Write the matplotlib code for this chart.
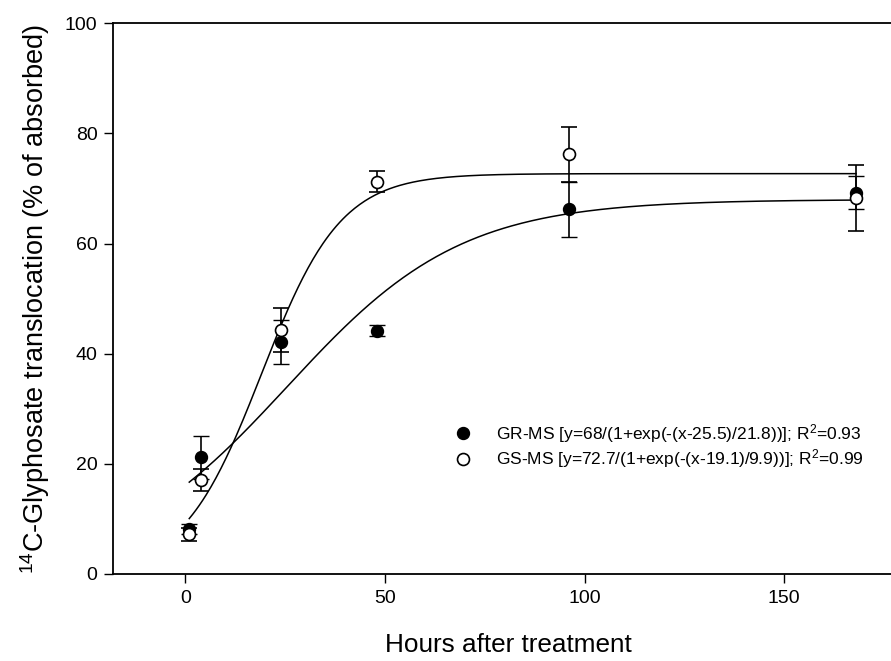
import numpy as np
import matplotlib
matplotlib.use("Agg")
import matplotlib.pyplot as plt
from matplotlib.lines import Line2D

plt.rcParams['font.family'] = ['Liberation Sans', 'DejaVu Sans']
plt.rcParams['mathtext.fontset'] = 'custom'
plt.rcParams['mathtext.rm'] = 'Liberation Sans'
plt.rcParams['mathtext.it'] = 'Liberation Sans:italic'
plt.rcParams['mathtext.bf'] = 'Liberation Sans:bold'

# Sampling times (hours after treatment)
hours = [1, 4, 24, 48, 96, 168]

# Glyphosate-resistant population
gr_mean = [8.1, 21.2, 42.2, 44.2, 66.2, 69.2]
gr_err = [0.9, 3.9, 4.0, 1.0, 5.0, 3.0]

# Glyphosate-susceptible population
gs_mean = [7.2, 17.1, 44.3, 71.2, 76.2, 68.2]
gs_err = [1.2, 2.0, 4.0, 1.9, 5.0, 6.0]

# Three-parameter sigmoid fits: y = a / (1 + exp(-(x - x0) / b))
gr_fit = dict(a=68.0, x0=25.5, b=21.8)
gs_fit = dict(a=72.7, x0=19.1, b=9.9)

gr_label = r"GR-MS [y=68/(1+exp(-(x-25.5)/21.8))]; R$^{2}$=0.93"
gs_label = r"GS-MS [y=72.7/(1+exp(-(x-19.1)/9.9))]; R$^{2}$=0.99"


def sigmoid(x, a, x0, b):
    return a / (1.0 + np.exp(-(x - x0) / b))


W, H = 891, 661
fig = plt.figure(figsize=(W / 100, H / 100), dpi=100)
ax_left, ax_right = 113.4, 904.0
ax_top, ax_bottom = 23.3, 574.0
ax = fig.add_axes([ax_left / W, 1 - ax_bottom / H,
                   (ax_right - ax_left) / W, (ax_bottom - ax_top) / H])

xs = np.linspace(hours[0], hours[-1], 400)
ax.plot(xs, sigmoid(xs, **gr_fit), color='black', lw=1.1, zorder=2)
ax.plot(xs, sigmoid(xs, **gs_fit), color='black', lw=1.1, zorder=2)

ms = 8.6
ax.errorbar(hours, gr_mean, yerr=gr_err, fmt='o', color='black',
            mfc='black', mec='black', ms=ms, mew=1.0, ecolor='black',
            elinewidth=1.2, capsize=6, capthick=1.2, zorder=3)
ax.errorbar(hours, gs_mean, yerr=gs_err, fmt='o', color='black',
            mfc='white', mec='black', ms=ms, mew=1.2, ecolor='black',
            elinewidth=1.2, capsize=6, capthick=1.2, zorder=4)

ax.set_xlim(-18, 180)
ax.set_ylim(0, 100)
ax.set_xticks([0, 50, 100, 150])
ax.set_yticks([0, 20, 40, 60, 80, 100])

for side in ('left', 'bottom', 'top'):
    ax.spines[side].set_linewidth(1.3)
ax.spines['right'].set_visible(False)
ax.tick_params(axis='both', direction='out', length=6.5, width=1.0,
               labelsize=14, pad=5, top=False, right=False)

ax.set_xlabel('Hours after treatment', fontsize=18.8, labelpad=19)
ax.set_ylabel(r'$^{14}$C-Glyphosate translocation (% of absorbed)',
              fontsize=19.5, labelpad=9)

handles = [
    Line2D([], [], ls='none', marker='o', mfc='black', mec='black', ms=8.6),
    Line2D([], [], ls='none', marker='o', mfc='white', mec='black', ms=8.6, mew=1.2),
]
leg = ax.legend(handles, [gr_label, gs_label], loc='upper left',
                bbox_to_anchor=(454 / W, 1 - 422 / H),
                bbox_transform=fig.transFigure, frameon=False,
                fontsize=12.5, handlelength=1.0, handletextpad=1.4,
                labelspacing=0.15, borderpad=0, borderaxespad=0)

fig.savefig('out.png', dpi=100)
